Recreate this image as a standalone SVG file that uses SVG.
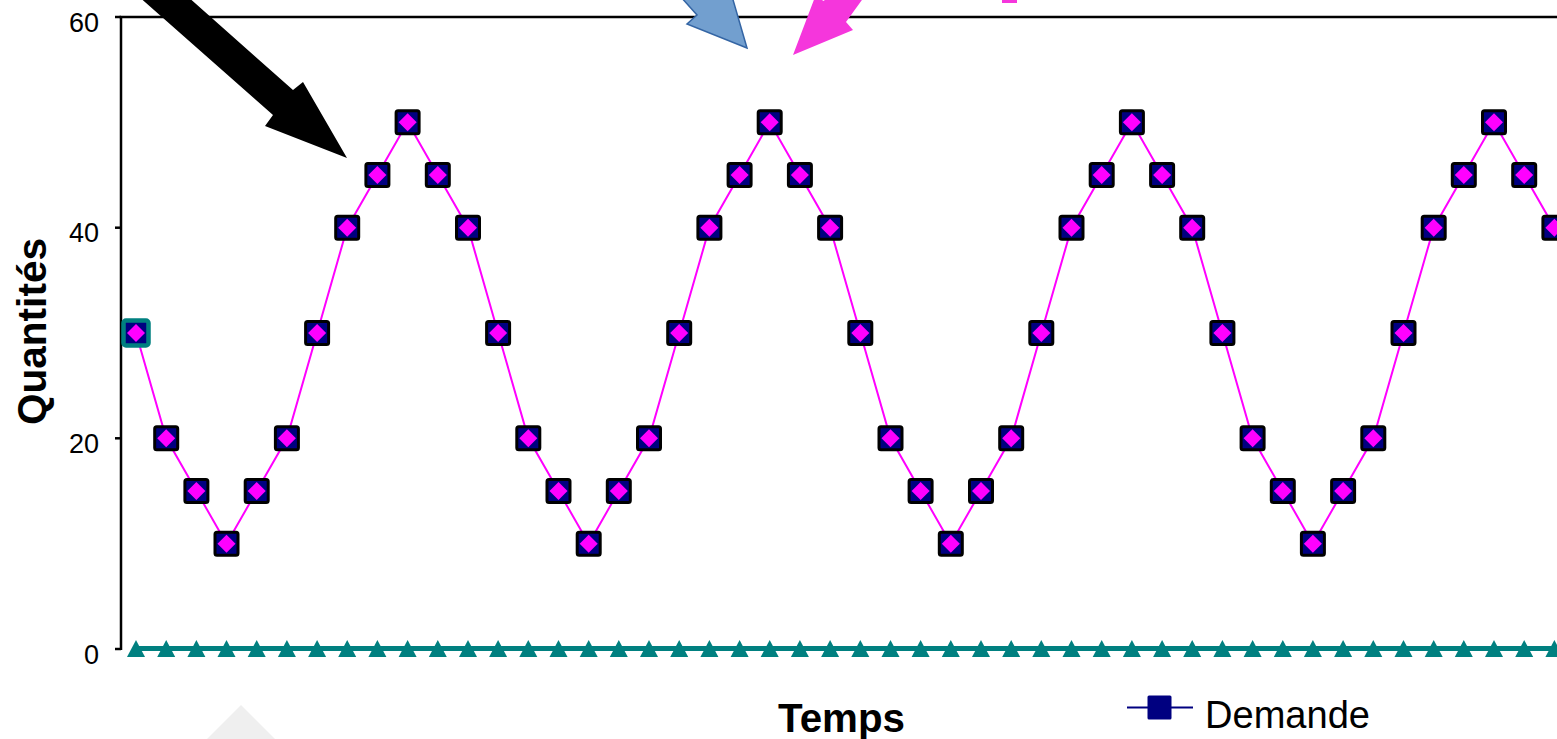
<svg xmlns="http://www.w3.org/2000/svg" xmlns:xlink="http://www.w3.org/1999/xlink" width="1557" height="739" viewBox="0 0 1557 739">
<style>
.ax{stroke:#000;stroke-width:2.5;fill:none}
.tk{font-family:"Liberation Sans",Arial,sans-serif;font-size:27px;fill:#000;text-anchor:end}
.ttl{font-family:"Liberation Sans",Arial,sans-serif;font-weight:bold;font-size:40px;fill:#000}
.lg{font-family:"Liberation Sans",Arial,sans-serif;font-size:38px;fill:#000}
</style>
<defs>
<g id="mk"><rect x="-11.5" y="-11.5" width="23" height="23" rx="2" fill="#000080" stroke="#000" stroke-width="3"/><path d="M0,-9 L9,0 L0,9 L-9,0Z" fill="#ff00ff"/></g>
<path id="tri" d="M0,-9 L9,8 L-9,8Z" fill="#008080"/>
</defs>
<rect width="1557" height="739" fill="#fff"/>
<g id="background-shape"><polygon points="241,705 200,746 282,746" fill="#efefef"/></g>
<g id="axes">
<line class="ax" x1="119.5" y1="17" x2="1557" y2="17"/>
<line class="ax" x1="121" y1="16" x2="121" y2="650"/>
<line class="ax" x1="115" y1="17" x2="121" y2="17"/>
<line class="ax" x1="115" y1="227.7" x2="121" y2="227.7"/>
<line class="ax" x1="115" y1="438.3" x2="121" y2="438.3"/>
<line class="ax" x1="115" y1="649" x2="121" y2="649"/>
<text class="tk" x="99" y="31.5">60</text>
<text class="tk" x="99" y="242.2">40</text>
<text class="tk" x="99" y="452.8">20</text>
<text class="tk" x="99" y="663.5">0</text>
<text class="ttl" transform="translate(46,331.5) rotate(-90)" text-anchor="middle" textLength="187" lengthAdjust="spacingAndGlyphs">Quantités</text>
<text class="ttl" x="778" y="732" textLength="127" lengthAdjust="spacingAndGlyphs">Temps</text>
</g>
<g id="series-stock">
<line x1="136" y1="648.5" x2="1557" y2="648.5" stroke="#008080" stroke-width="5"/>
<use xlink:href="#tri" x="136" y="649"/><use xlink:href="#tri" x="166.2" y="649"/><use xlink:href="#tri" x="196.4" y="649"/><use xlink:href="#tri" x="226.5" y="649"/><use xlink:href="#tri" x="256.7" y="649"/><use xlink:href="#tri" x="286.9" y="649"/><use xlink:href="#tri" x="317.1" y="649"/><use xlink:href="#tri" x="347.2" y="649"/><use xlink:href="#tri" x="377.4" y="649"/><use xlink:href="#tri" x="407.6" y="649"/><use xlink:href="#tri" x="437.8" y="649"/><use xlink:href="#tri" x="468" y="649"/>
<use xlink:href="#tri" x="498.1" y="649"/><use xlink:href="#tri" x="528.3" y="649"/><use xlink:href="#tri" x="558.5" y="649"/><use xlink:href="#tri" x="588.7" y="649"/><use xlink:href="#tri" x="618.8" y="649"/><use xlink:href="#tri" x="649" y="649"/><use xlink:href="#tri" x="679.2" y="649"/><use xlink:href="#tri" x="709.4" y="649"/><use xlink:href="#tri" x="739.6" y="649"/><use xlink:href="#tri" x="769.7" y="649"/><use xlink:href="#tri" x="799.9" y="649"/><use xlink:href="#tri" x="830.1" y="649"/>
<use xlink:href="#tri" x="860.3" y="649"/><use xlink:href="#tri" x="890.5" y="649"/><use xlink:href="#tri" x="920.6" y="649"/><use xlink:href="#tri" x="950.8" y="649"/><use xlink:href="#tri" x="981" y="649"/><use xlink:href="#tri" x="1011.2" y="649"/><use xlink:href="#tri" x="1041.3" y="649"/><use xlink:href="#tri" x="1071.5" y="649"/><use xlink:href="#tri" x="1101.7" y="649"/><use xlink:href="#tri" x="1131.9" y="649"/><use xlink:href="#tri" x="1162.1" y="649"/><use xlink:href="#tri" x="1192.2" y="649"/>
<use xlink:href="#tri" x="1222.4" y="649"/><use xlink:href="#tri" x="1252.6" y="649"/><use xlink:href="#tri" x="1282.8" y="649"/><use xlink:href="#tri" x="1312.9" y="649"/><use xlink:href="#tri" x="1343.1" y="649"/><use xlink:href="#tri" x="1373.3" y="649"/><use xlink:href="#tri" x="1403.5" y="649"/><use xlink:href="#tri" x="1433.7" y="649"/><use xlink:href="#tri" x="1463.8" y="649"/><use xlink:href="#tri" x="1494" y="649"/><use xlink:href="#tri" x="1524.2" y="649"/><use xlink:href="#tri" x="1554.4" y="649"/>
</g>
<g id="series-demande">
<polyline fill="none" stroke="#ff00ff" stroke-width="2" points="136,333 166.2,438.3 196.4,491 226.5,543.7 256.7,491 286.9,438.3 317.1,333 347.2,227.7 377.4,175 407.6,122.3 437.8,175 468,227.7 498.1,333 528.3,438.3 558.5,491 588.7,543.7 618.8,491 649,438.3 679.2,333 709.4,227.7 739.6,175 769.7,122.3 799.9,175 830.1,227.7 860.3,333 890.5,438.3 920.6,491 950.8,543.7 981,491 1011.2,438.3 1041.3,333 1071.5,227.7 1101.7,175 1131.9,122.3 1162.1,175 1192.2,227.7 1222.4,333 1252.6,438.3 1282.8,491 1312.9,543.7 1343.1,491 1373.3,438.3 1403.5,333 1433.7,227.7 1463.8,175 1494,122.3 1524.2,175 1554.4,227.7 1584.6,333"/>
<rect x="123.5" y="320.5" width="25" height="25" rx="2.5" fill="#000080" stroke="#008080" stroke-width="4.5"/>
<path d="M136,324 L145,333 L136,342 L127,333Z" fill="#ff00ff"/>
<use xlink:href="#mk" x="166.2" y="438.3"/><use xlink:href="#mk" x="196.4" y="491"/><use xlink:href="#mk" x="226.5" y="543.7"/><use xlink:href="#mk" x="256.7" y="491"/><use xlink:href="#mk" x="286.9" y="438.3"/><use xlink:href="#mk" x="317.1" y="333"/><use xlink:href="#mk" x="347.2" y="227.7"/><use xlink:href="#mk" x="377.4" y="175"/><use xlink:href="#mk" x="407.6" y="122.3"/><use xlink:href="#mk" x="437.8" y="175"/><use xlink:href="#mk" x="468" y="227.7"/>
<use xlink:href="#mk" x="498.1" y="333"/><use xlink:href="#mk" x="528.3" y="438.3"/><use xlink:href="#mk" x="558.5" y="491"/><use xlink:href="#mk" x="588.7" y="543.7"/><use xlink:href="#mk" x="618.8" y="491"/><use xlink:href="#mk" x="649" y="438.3"/><use xlink:href="#mk" x="679.2" y="333"/><use xlink:href="#mk" x="709.4" y="227.7"/><use xlink:href="#mk" x="739.6" y="175"/><use xlink:href="#mk" x="769.7" y="122.3"/><use xlink:href="#mk" x="799.9" y="175"/><use xlink:href="#mk" x="830.1" y="227.7"/>
<use xlink:href="#mk" x="860.3" y="333"/><use xlink:href="#mk" x="890.5" y="438.3"/><use xlink:href="#mk" x="920.6" y="491"/><use xlink:href="#mk" x="950.8" y="543.7"/><use xlink:href="#mk" x="981" y="491"/><use xlink:href="#mk" x="1011.2" y="438.3"/><use xlink:href="#mk" x="1041.3" y="333"/><use xlink:href="#mk" x="1071.5" y="227.7"/><use xlink:href="#mk" x="1101.7" y="175"/><use xlink:href="#mk" x="1131.9" y="122.3"/><use xlink:href="#mk" x="1162.1" y="175"/><use xlink:href="#mk" x="1192.2" y="227.7"/>
<use xlink:href="#mk" x="1222.4" y="333"/><use xlink:href="#mk" x="1252.6" y="438.3"/><use xlink:href="#mk" x="1282.8" y="491"/><use xlink:href="#mk" x="1312.9" y="543.7"/><use xlink:href="#mk" x="1343.1" y="491"/><use xlink:href="#mk" x="1373.3" y="438.3"/><use xlink:href="#mk" x="1403.5" y="333"/><use xlink:href="#mk" x="1433.7" y="227.7"/><use xlink:href="#mk" x="1463.8" y="175"/><use xlink:href="#mk" x="1494" y="122.3"/><use xlink:href="#mk" x="1524.2" y="175"/><use xlink:href="#mk" x="1554.4" y="227.7"/>
</g>
<g id="connectors">
<polygon id="arrow-black" points="120,-20 169,-20 293,90 303,82 347,158 265,126 273,115" fill="#000"/>
<polygon id="arrow-blue" points="747,48 687,24 697,15 655,-32 680,-52 719,-5 729,-14" fill="#729fcf" stroke="#3465a4" stroke-width="1.5" stroke-linejoin="miter"/>
<polygon id="arrow-pink" points="793,55 853,30 846,22 880,-25 852,-49 824,1 815,-3" fill="#f536dc"/>
<rect x="1002" y="-3" width="15" height="6" fill="#f536dc"/>
</g>
<g id="legend">
<line x1="1127" y1="707.5" x2="1193" y2="707.5" stroke="#000080" stroke-width="2"/>
<rect x="1147.5" y="695.5" width="24" height="24" rx="1.5" fill="#000080"/>
<text class="lg" x="1205" y="728" textLength="165" lengthAdjust="spacingAndGlyphs">Demande</text>
</g>
</svg>
